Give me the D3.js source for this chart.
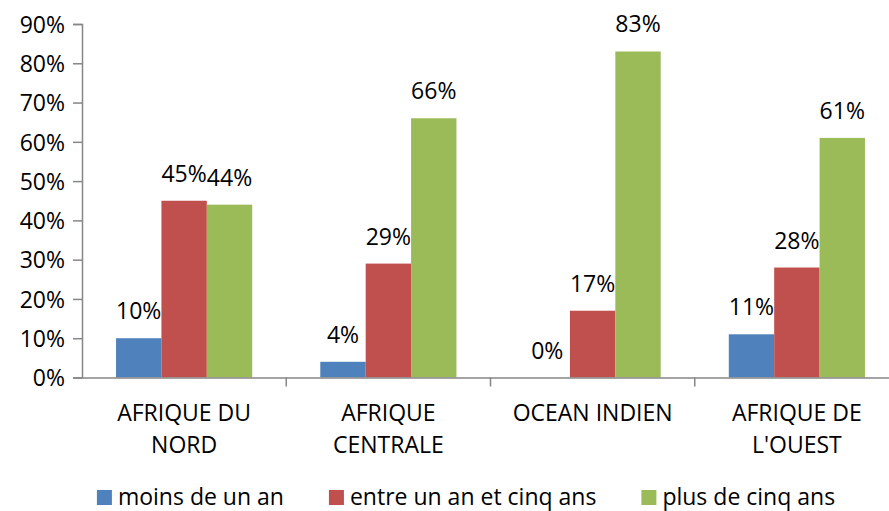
<!DOCTYPE html>
<html>
<head>
<meta charset="utf-8">
<script src="https://cdn.jsdelivr.net/npm/d3@7"></script>
<style>
  body { margin: 0; background: #fff; }
  svg { display: block; font-family: "Open Sans", sans-serif; }
</style>
</head>
<body>
<svg id="chart" width="889" height="511"></svg>
<script>
const categories = [["AFRIQUE DU", "NORD"], ["AFRIQUE", "CENTRALE"], ["OCEAN INDIEN"], ["AFRIQUE DE", "L'OUEST"]];
const seriesNames = ["moins de un an", "entre un an et cinq ans", "plus de cinq ans"];
const moinsUnAn = [0.10, 0.04, 0.00, 0.11];
const unACinqAns = [0.45, 0.29, 0.17, 0.28];
const plusCinqAns = [0.44, 0.66, 0.83, 0.61];
const yTicks = [0, 0.1, 0.2, 0.3, 0.4, 0.5, 0.6, 0.7, 0.8, 0.9];
const colors = ["#4F81BD", "#C0504D", "#9BBB59"];

const values = [moinsUnAn, unACinqAns, plusCinqAns];
const svg = d3.select("#chart");
const plotLeft = 82, plotRight = 899, plotTop = 24, plotBottom = 377.5;
const fontSize = 23;

const catKeys = categories.map((c, i) => i);
const x0 = d3.scaleBand().domain(catKeys).range([plotLeft, plotRight]).paddingInner(0);
const gap = x0.bandwidth() / 6;
const x1 = d3.scaleBand().domain(d3.range(seriesNames.length)).range([gap, x0.bandwidth() - gap]);
const y = d3.scaleLinear().domain([0, 0.9]).range([plotBottom, plotTop]);

// bars
values.forEach((vals, s) => {
  svg.append("g").selectAll("rect")
    .data(vals)
    .join("rect")
    .attr("x", (d, i) => x0(i) + x1(s))
    .attr("width", x1.bandwidth())
    .attr("y", d => y(d))
    .attr("height", d => y(0) - y(d))
    .attr("fill", colors[s]);
});

// value labels
values.forEach((vals, s) => {
  svg.append("g").selectAll("text")
    .data(vals)
    .join("text")
    .attr("x", (d, i) => x0(i) + x1(s) + x1.bandwidth() / 2)
    .attr("y", d => y(d) - 19)
    .attr("text-anchor", "middle")
    .attr("font-size", fontSize)
    .attr("fill", "#000")
    .text(d => Math.round(d * 100) + "%");
});

// y axis
const yAxis = svg.append("g")
  .attr("transform", `translate(${plotLeft},0)`)
  .call(d3.axisLeft(y).tickValues(yTicks).tickFormat(d3.format(".0%")).tickSize(9).tickPadding(8));
yAxis.select(".domain").attr("stroke", "#868686").attr("stroke-width", 1.5);
yAxis.selectAll(".tick line").attr("stroke", "#868686").attr("stroke-width", 1.5);
yAxis.selectAll(".tick text").attr("font-size", fontSize).attr("font-family", "Open Sans, sans-serif")
  .attr("fill", "#000").attr("dy", "0.36em");

// x axis
const xAxis = svg.append("g")
  .attr("transform", `translate(0,${plotBottom})`)
  .call(d3.axisBottom(x0).tickValues([]).tickSizeOuter(0));
xAxis.select(".domain").attr("stroke", "#868686").attr("stroke-width", 1.5);
xAxis.selectAll(".sep")
  .data(catKeys.slice(1))
  .join("line")
  .attr("x1", d => x0(d)).attr("x2", d => x0(d))
  .attr("y1", 0).attr("y2", 9)
  .attr("stroke", "#868686").attr("stroke-width", 1.5);

// category labels
svg.append("g").selectAll("text")
  .data(categories)
  .join("text")
  .attr("x", (d, i) => x0(i) + x0.bandwidth() / 2)
  .attr("y", 421)
  .attr("text-anchor", "middle")
  .attr("font-size", fontSize)
  .attr("fill", "#000")
  .each(function(d) {
    const cx = d3.select(this).attr("x");
    d3.select(this).selectAll("tspan")
      .data(d)
      .join("tspan")
      .attr("x", cx)
      .attr("dy", (t, j) => j === 0 ? 0 : 32)
      .text(t => t);
  });

// legend
const legend = svg.append("g");
const items = legend.selectAll("g")
  .data(seriesNames)
  .join("g");
items.append("rect")
  .attr("width", 15).attr("height", 15)
  .attr("y", 490)
  .attr("fill", (d, i) => colors[i]);
items.append("text")
  .attr("x", 21)
  .attr("y", 505)
  .attr("font-size", fontSize)
  .attr("fill", "#000")
  .text(d => d);
const widths = [];
items.each(function() {
  widths.push(this.getBBox().width);
});
const total = d3.sum(widths) + 45 * (widths.length - 1);
let start = 466 - total / 2;
items.attr("transform", (d, i) => {
  const tx = start;
  start += widths[i] + 45;
  return `translate(${tx},0)`;
});
</script>
</body>
</html>
